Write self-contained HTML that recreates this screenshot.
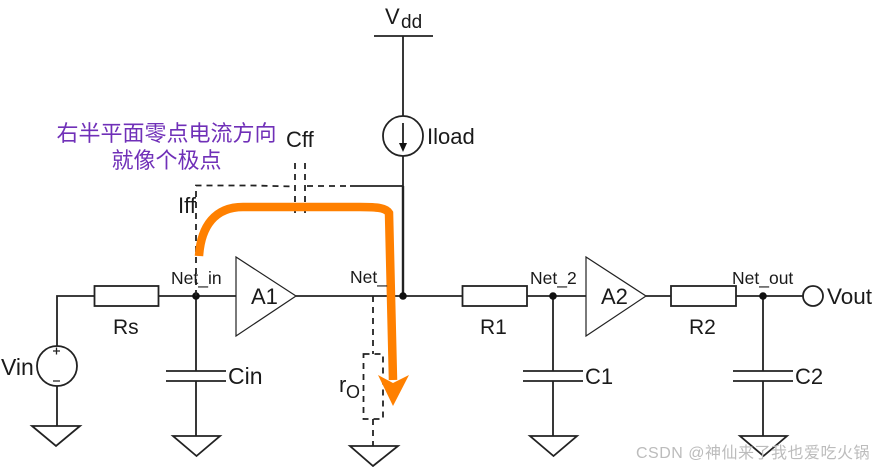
<!DOCTYPE html>
<html>
<head>
<meta charset="utf-8">
<style>
html,body{margin:0;padding:0;background:#fff;width:873px;height:467px;overflow:hidden}
svg{display:block}
text{font-family:"Liberation Sans","Noto Sans CJK SC",sans-serif;fill:#1a1a1a}
.w{stroke:#222;stroke-width:1.8;fill:none}
.d{stroke:#222;stroke-width:1.8;fill:none;stroke-dasharray:6 5}
.t{stroke:#222;stroke-width:1.2;fill:#fff}
</style>
</head>
<body>
<svg width="873" height="467" viewBox="0 0 873 467" xmlns="http://www.w3.org/2000/svg">
<rect width="873" height="467" fill="#fff"/>
<!-- Vdd / Iload -->
<path class="w" d="M374 36H433M403 36V116M403 156V296"/>
<circle class="w" cx="403" cy="136" r="20"/>
<path class="w" d="M403 123V146"/>
<path d="M399 143L407 143L403 152Z" fill="#111"/>
<!-- main wires -->
<path class="w" d="M57 346V296H94M158 296H236M296 296H462M527 296H586M646 296H671M736 296H803"/>
<path class="w" d="M57 386V426M196 296V371M196 381V436M553 296V371M553 381V436M763 296V371M763 381V436"/>
<path class="w" d="M350 186H403"/>
<path stroke="#222" stroke-width="2.4" d="M403 186V296" fill="none"/>
<!-- resistors -->
<rect class="w" x="94.500" y="286" width="64" height="20"/>
<rect class="w" x="462.500" y="286" width="64.500" height="20"/>
<rect class="w" x="671" y="286" width="65" height="20"/>
<!-- amps -->
<path class="t" d="M236 257V336L296 296Z"/>
<path class="t" d="M586 257V336L646 296Z"/>
<!-- nodes -->
<circle cx="196" cy="296" r="3.800" fill="#111"/>
<circle cx="403" cy="296" r="3.800" fill="#111"/>
<circle cx="553" cy="296" r="3.800" fill="#111"/>
<circle cx="763" cy="296" r="3.800" fill="#111"/>
<!-- caps -->
<path class="w" d="M166 371H226M166 381H226M523 371H583M523 381H583M733 371H793M733 381H793"/>
<!-- vin -->
<circle class="w" cx="57" cy="366" r="20"/>
<path stroke="#222" stroke-width="1.300" d="M53 351H60M56.500 347.500V354.500M53 381H60" fill="none"/>
<!-- grounds -->
<path class="w" d="M32 426H80L56 446Z"/>
<path class="w" d="M173 436H220L196.500 456Z"/>
<path class="w" d="M350 446H398L373 466Z"/>
<path class="w" d="M530 436H577L553.500 456Z"/>
<path class="w" d="M740 436H787L763.500 456Z"/>
<!-- vout -->
<circle class="w" cx="813" cy="296" r="10" fill="#fff"/>
<!-- dashed -->
<path class="d" d="M196 296V185.500H253L295 186.500"/>
<path class="d" d="M295 163V215M305 163V215M307 186H350"/>
<path class="d" d="M373 296V354M373 419V446"/>
<path class="d" d="M363.500 354H383V419H363.500Z"/>
<!-- orange -->
<path d="M199 256C201 226 215 207 243 207H360C378 207 386 208 389 213L393 380" fill="none" stroke="#ff8000" stroke-width="8.500"/>
<path d="M378 375L393 383L409 375L393 406Z" fill="#ff8000"/>
<!-- labels -->
<text x="385" y="24" font-size="22">V</text>
<text x="401" y="28" font-size="19">dd</text>
<text x="427" y="144" font-size="22">Iload</text>
<text x="286" y="147" font-size="22">Cff</text>
<text x="178" y="213" font-size="22">Iff</text>
<text x="166.500" y="141" font-size="22" text-anchor="middle" style="fill:#7030b8">右半平面零点电流方向</text>
<text x="166.500" y="168" font-size="22" text-anchor="middle" style="fill:#7030b8">就像个极点</text>
<text x="171" y="284" font-size="17.500">Net_in</text>
<text x="350" y="283" font-size="17.500">Net_</text>
<text x="530" y="284" font-size="17.500">Net_2</text>
<text x="732" y="284" font-size="17.500">Net_out</text>
<text x="251" y="304" font-size="22">A1</text>
<text x="601" y="304" font-size="22">A2</text>
<text x="113" y="334" font-size="21">Rs</text>
<text x="480" y="334" font-size="21">R1</text>
<text x="689" y="334" font-size="21">R2</text>
<text x="1" y="375" font-size="23">Vin</text>
<text x="228" y="384" font-size="23">Cin</text>
<text x="585" y="384" font-size="22">C1</text>
<text x="795" y="384" font-size="22">C2</text>
<text x="339" y="392" font-size="22">r</text>
<text x="346" y="398" font-size="18">O</text>
<text x="827" y="304" font-size="22.500">Vout</text>
<text x="636" y="458" font-size="16" style="fill:#bcbcbc;letter-spacing:.5px">CSDN @神仙来了我也爱吃火锅</text>
</svg>
</body>
</html>
